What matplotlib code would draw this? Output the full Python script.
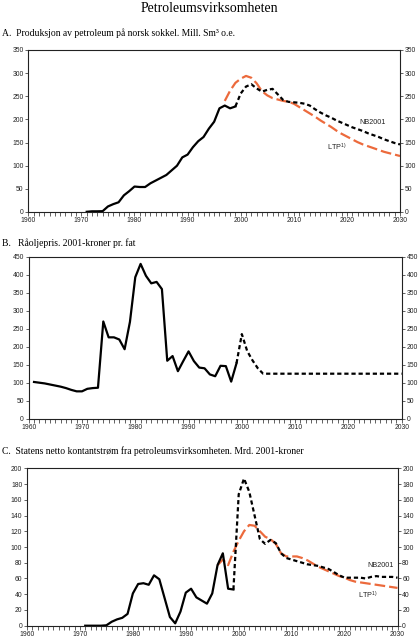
import matplotlib
matplotlib.use("Agg")
import matplotlib.pyplot as plt
from matplotlib.ticker import MultipleLocator

# ---------------- data ----------------
# Panel A: production, mill. Sm3 o.e.
a_hist_years = list(range(1971, 2000))
a_hist = [0.5, 1.5, 1.5, 1.8, 12, 17, 21, 36, 45, 55, 54, 54, 62, 68, 74, 80, 90,
          100, 118, 124, 140, 153, 162, 180, 195, 224, 230, 224, 228]
a_nb_years = list(range(1999, 2031))
a_nb = [228, 256, 271, 276, 267, 260, 264, 266, 254, 242, 238, 237, 236, 234, 230,
        222, 215, 209, 204, 198, 193, 188, 183, 179, 175, 170, 166, 162, 157, 153,
        149, 146]
a_ltp_years = list(range(1997, 2031))
a_ltp = [240, 262, 279, 288, 294, 290, 278, 261, 252, 246, 243, 240, 238, 234, 227,
         220, 213, 206, 198, 191, 184, 176, 169, 163, 157, 151, 146, 142, 138, 134,
         130, 127, 124, 121]

# Panel B: crude oil price, 2001-NOK per barrel
b_hist_years = list(range(1961, 2000))
b_hist = [102, 100, 98, 95, 92, 89, 85, 80, 76, 76, 83, 85, 86, 270, 226, 226, 220,
          193, 269, 393, 430, 397, 376, 380, 360, 161, 174, 132, 160, 187, 160, 142,
          140, 123, 118, 147, 146, 103, 154]
b_proj_years = list(range(1999, 2031))
b_proj = [154, 235, 188, 162, 140, 125] + [125] * 26

# Panel C: state net cash flow, bn 2001-NOK
c_hist_years = list(range(1971, 2000))
c_hist = [0, 0, 0, 0, 0.5, 5, 8, 10, 15, 41, 53, 54, 52, 64, 59, 35, 11, 3, 18, 42,
          47, 36, 32, 28, 41, 77, 92, 47, 46]
c_nb_years = list(range(1999, 2031))
c_nb = [46, 167, 187, 170, 140, 110, 104, 109, 105, 92, 86, 84, 82, 80, 78, 77, 76,
        74, 72, 68, 64, 61, 61, 61, 61, 60, 62, 63, 62, 62, 62, 61]
c_ltp_years = list(range(1996, 2031))
c_ltp = [77, 84, 77, 94, 108, 120, 128, 127, 120, 113, 110, 104, 92, 88, 88, 88, 86,
         83, 79, 75, 72, 69, 66, 63, 61, 58, 56, 55, 54, 53, 52, 51, 50, 49, 48]

title = "Petroleumsvirksomheten"
subtitles = ["A.  Produksjon av petroleum på norsk sokkel. Mill. Sm³ o.e.",
             "B.   Råoljepris. 2001-kroner pr. fat",
             "C.  Statens netto kontantstrøm fra petroleumsvirksomheten. Mrd. 2001-kroner"]
label_nb = "NB2001"
label_ltp = "LTP$^{\\mathregular{1)}}$"

# ---------------- style ----------------
W, H = 418, 640
ORANGE = "#EC6A3C"
SERIF = ["Liberation Serif", "DejaVu Serif"]
SANS = ["Liberation Sans", "DejaVu Sans"]
plt.rcParams["font.family"] = SANS
plt.rcParams["mathtext.default"] = "regular"

fig = plt.figure(figsize=(W / 100, H / 100), dpi=100)


def fx(px):
    return px / W


def fy(py):
    return 1 - py / H


def make_ax(left, right, top, bottom, ymax, ystep):
    ax = fig.add_axes([fx(left), fy(bottom), fx(right - left), fy(top) - fy(bottom)])
    ax.set_xlim(1960, 2030)
    ax.set_ylim(0, ymax)
    ax.xaxis.set_major_locator(MultipleLocator(10))
    ax.xaxis.set_minor_locator(MultipleLocator(1))
    ax.yaxis.set_major_locator(MultipleLocator(ystep))
    ax.tick_params(axis="both", which="both", direction="out", labelsize=4.9,
                   colors="#222222", width=0.5, pad=1.2)
    ax.tick_params(axis="x", which="major", length=2.6)
    ax.tick_params(axis="x", which="minor", length=2.6)
    ax.tick_params(axis="y", which="major", length=2.2, right=True, labelright=True)
    for s in ax.spines.values():
        s.set_linewidth(0.8)
        s.set_color("#222222")
    return ax


lw = 1.6
solid_kw = dict(color="black", lw=lw, solid_joinstyle="round")
nb_kw = dict(color="black", lw=lw, linestyle=(0, (1.9, 1.3)))
ltp_kw = dict(color=ORANGE, lw=lw, linestyle=(0, (4.8, 1.8)))

# Title
fig.text(0.5, fy(8.5), title, ha="center", va="center", family=SERIF, size=9.9)

# ---- Panel A ----
fig.text(fx(2), fy(33), subtitles[0], ha="left", va="center", family=SERIF, size=6.9)
axA = make_ax(28.3, 400, 50, 212, 350, 50)
axA.plot(a_ltp_years, a_ltp, **ltp_kw)
axA.plot(a_nb_years, a_nb, **nb_kw)
axA.plot(a_hist_years, a_hist, **solid_kw)
axA.text(2022.4, 194, label_nb, fontsize=5.2, color="#222222", ha="left", va="center")
axA.text(2016.2, 140, label_ltp, fontsize=5.2, color="#222222", ha="left", va="center")

# ---- Panel B ----
fig.text(fx(2), fy(243), subtitles[1], ha="left", va="center", family=SERIF, size=6.9)
axB = make_ax(28.7, 401.7, 256.7, 418.7, 450, 50)
axB.plot(b_proj_years, b_proj, **nb_kw)
axB.plot(b_hist_years, b_hist, **solid_kw)

# ---- Panel C ----
fig.text(fx(2), fy(451), subtitles[2], ha="left", va="center", family=SERIF, size=6.9)
axC = make_ax(27, 397.5, 468.3, 625.7, 200, 20)
axC.plot(c_ltp_years, c_ltp, **ltp_kw)
axC.plot(c_nb_years, c_nb, **nb_kw)
axC.plot(c_hist_years, c_hist, **solid_kw)
axC.text(2024.3, 76, label_nb, fontsize=5.2, color="#222222", ha="left", va="center")
axC.text(2022.6, 39, label_ltp, fontsize=5.2, color="#222222", ha="left", va="center")

fig.savefig("out.png", dpi=100)
